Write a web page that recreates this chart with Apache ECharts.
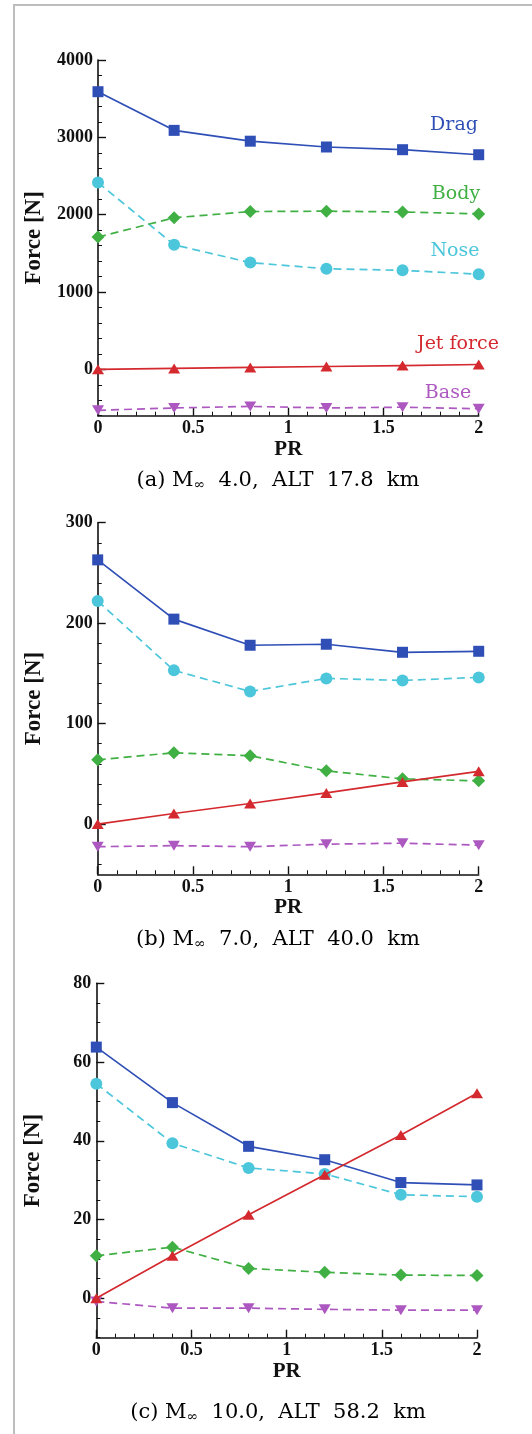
<!DOCTYPE html>
<html>
<head>
<meta charset="utf-8">
<script src="https://cdn.jsdelivr.net/npm/echarts@6/dist/echarts.min.js"></script>
<style>
html,body{margin:0;padding:0;background:#fff;}
#chart{width:532px;height:1434px;}
</style>
</head>
<body>
<div id="chart"></div>
<script>
// ---- Data ----
const PR = [0, 0.4, 0.8, 1.2, 1.6, 2.0];
const seriesNames = ['Drag', 'Body', 'Nose', 'Jet force', 'Base'];

// (a) M 4.0, ALT 17.8 km
const dragA = [3590, 3090, 2950, 2875, 2840, 2775];
const bodyA = [1710, 1960, 2040, 2045, 2035, 2010];
const noseA = [2415, 1610, 1380, 1300, 1280, 1230];
const jetA  = [0, 12, 24, 36, 48, 62];
const baseA = [-530, -500, -480, -500, -490, -510];

// (b) M 7.0, ALT 40.0 km
const dragB = [263, 204, 178, 179, 171, 172];
const bodyB = [64, 71, 68, 53, 45, 43];
const noseB = [222, 153, 132, 145, 143, 146];
const jetB  = [0, 10.5, 20.5, 31, 42, 52.5];
const baseB = [-22.5, -21.5, -22.5, -20, -19, -21];

// (c) M 10.0, ALT 58.2 km
const dragC = [63.8, 49.7, 38.6, 35.2, 29.4, 28.8];
const bodyC = [10.8, 13.0, 7.6, 6.6, 5.9, 5.8];
const noseC = [54.5, 39.4, 33.1, 31.6, 26.3, 25.8];
const jetC  = [0, 10.8, 21.2, 31.4, 41.5, 52.1];
const baseC = [-0.8, -2.5, -2.5, -2.8, -3.0, -3.0];

// Axis tick values
const yLabelsA = [0, 1000, 2000, 3000, 4000];
const yMinorA  = [-600, -400, -200, 0, 200, 400, 600, 800, 1000, 1200, 1400, 1600, 1800, 2000, 2200, 2400, 2600, 2800, 3000, 3200, 3400, 3600, 3800, 4000];
const yLabelsB = [0, 100, 200, 300];
const yMinorB  = [-40, -20, 0, 20, 40, 60, 80, 100, 120, 140, 160, 180, 200, 220, 240, 260, 280, 300];
const yLabelsC = [0, 20, 40, 60, 80];
const yMinorC  = [-10, -5, 0, 5, 10, 15, 20, 25, 30, 35, 40, 45, 50, 55, 60, 65, 70, 75, 80];

const captions = [
  ['(a) ', '4.0,  ALT  17.8  km'],
  ['(b) ', '7.0,  ALT  40.0  km'],
  ['(c) ', '10.0,  ALT  58.2  km']
];

// ---- Styles ----
const COLORS = {Drag:'#2f4fb6', Body:'#40b044', Nose:'#4cc6da', 'Jet force':'#d42a2f', Base:'#ad58c0'};
const SERIF = '"Liberation Serif", "DejaVu Serif", serif';
const WIDE_SERIF = '"DejaVu Serif", serif';

const panels = [
  {min:-600, max:4000, labels:yLabelsA, minor:yMinorA, top:60, height:355.7, left:98, width:380.7,
   data:{Drag:dragA, Body:bodyA, Nose:noseA, 'Jet force':jetA, Base:baseA}},
  {min:-50, max:300, labels:yLabelsB, minor:yMinorB, top:522.7, height:351.6, left:97.7, width:381,
   data:{Drag:dragB, Body:bodyB, Nose:noseB, 'Jet force':jetB, Base:baseB}},
  {min:-10, max:80, labels:yLabelsC, minor:yMinorC, top:983.3, height:354.4, left:96.3, width:380.7,
   data:{Drag:dragC, Body:bodyC, Nose:noseC, 'Jet force':jetC, Base:baseC}}
];

const symbolOf = {Drag:'rect', Body:'diamond', Nose:'circle', 'Jet force':'triangle', Base:'triangle'};
const sizeOf = {Drag:[11,11], Body:[13,13], Nose:[12,12], 'Jet force':[12,10], Base:[12,10]};
const dashed = {Drag:false, Body:true, Nose:true, 'Jet force':false, Base:true};
const drawOrder = ['Nose', 'Body', 'Base', 'Drag', 'Jet force'];

const grid = [], xAxis = [], yAxis = [], series = [];
panels.forEach((p, i) => {
  grid.push({left:p.left, top:p.top, width:p.width, height:p.height, containLabel:false});
  xAxis.push({
    type:'value', gridIndex:i, min:0, max:2, interval:0.5,
    name:'PR', nameLocation:'middle', nameGap:22,
    nameTextStyle:{fontFamily:SERIF, fontWeight:'bold', fontSize:21, color:'#111'},
    axisLine:{show:true, onZero:false, lineStyle:{color:'#111', width:1.6}},
    axisTick:{show:true, inside:true, length:8, lineStyle:{color:'#111', width:1.4}},
    minorTick:{show:true, splitNumber:5, length:4, lineStyle:{color:'#111', width:1}},
    axisLabel:{fontFamily:SERIF, fontWeight:'bold', fontSize:18, color:'#111', margin:4,
      formatter: v => String(v)},
    splitLine:{show:false}, minorSplitLine:{show:false}
  });
  yAxis.push({
    type:'value', gridIndex:i, min:p.min, max:p.max, position:'left',
    name:'Force [N]', nameLocation:'middle', nameGap:52, nameRotate:90,
    nameTextStyle:{fontFamily:SERIF, fontWeight:'bold', fontSize:23, color:'#111'},
    axisLine:{show:true, onZero:false, lineStyle:{color:'#111', width:1.6}},
    axisTick:{show:true, inside:true, length:8, customValues:p.labels, lineStyle:{color:'#111', width:1.4}},
    axisLabel:{customValues:p.labels, fontFamily:SERIF, fontWeight:'bold', fontSize:18, color:'#111', margin:5,
      formatter: v => String(v)},
    splitLine:{show:false}
  });
  yAxis.push({
    type:'value', gridIndex:i, min:p.min, max:p.max, position:'left', offset:0,
    axisLine:{show:false, onZero:false},
    axisTick:{show:true, inside:true, length:4, customValues:p.minor, lineStyle:{color:'#111', width:1}},
    axisLabel:{show:false},
    splitLine:{show:false}
  });
  drawOrder.forEach((name, k) => {
    const vals = p.data[name];
    series.push({
      name: name + ' ' + i,
      type:'line', xAxisIndex:i, yAxisIndex:2*i,
      data: PR.map((x, j) => [x, vals[j]]),
      symbol: symbolOf[name], symbolSize: sizeOf[name],
      symbolRotate: name === 'Base' ? 180 : 0,
      showAllSymbol:true, animation:false, z: 2 + k,
      itemStyle:{color:COLORS[name], opacity:1},
      lineStyle:{color:COLORS[name], width:1.7, type: dashed[name] ? [8,5] : 'solid'},
      emphasis:{disabled:true}
    });
  });
});

// series name annotations (panel a)
const nameLabelPos = {Drag:[454,125], Body:[456,194], Nose:[455,251], 'Jet force':[458,344], Base:[448,393]};
const graphic = [
  {type:'rect', shape:{x:13, y:4, width:2, height:1430}, style:{fill:'#bdbdbd'}, silent:true},
  {type:'rect', shape:{x:13, y:4, width:519, height:2}, style:{fill:'#bdbdbd'}, silent:true}
];
seriesNames.forEach(n => {
  graphic.push({type:'text', x:nameLabelPos[n][0], y:nameLabelPos[n][1],
    style:{text:n, fill:COLORS[n], font:'19px ' + WIDE_SERIF, textAlign:'center', textVerticalAlign:'middle'}});
});
const capY = [481, 940, 1413];
captions.forEach((c, i) => {
  graphic.push({type:'text', x:278, y:capY[i],
    style:{
      text:'{n|' + c[0] + 'M}{s|∞}{n|  ' + c[1] + '}',
      textAlign:'center', textVerticalAlign:'middle',
      rich:{
        n:{fontFamily:WIDE_SERIF, fontSize:21, color:'#222'},
        s:{fontFamily:WIDE_SERIF, fontSize:14, color:'#222', padding:[8,0,0,0]}
      }
    }});
});

const chart = echarts.init(document.getElementById('chart'), null, {renderer:'canvas'});
chart.setOption({
  backgroundColor:'#fff',
  animation:false,
  grid, xAxis, yAxis, series, graphic
});
</script>
</body>
</html>
